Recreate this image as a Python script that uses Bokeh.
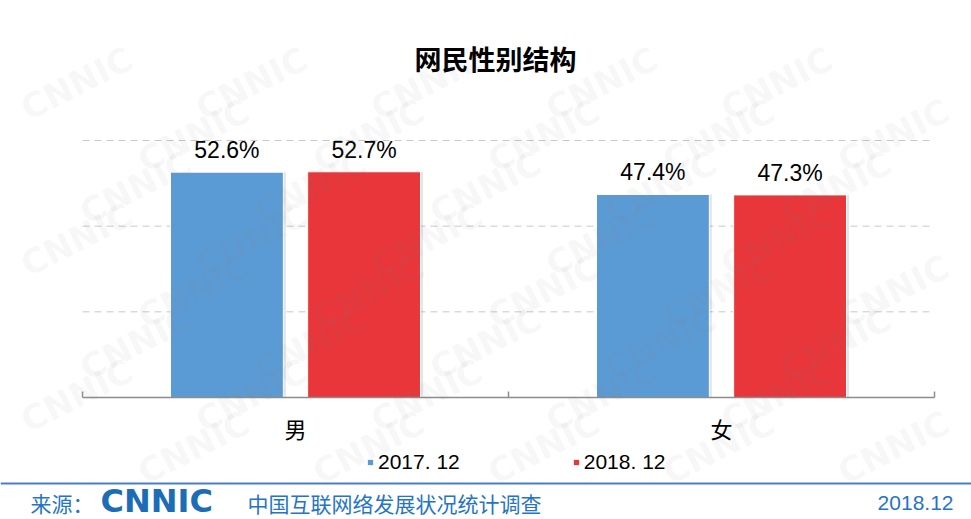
from bokeh.plotting import figure
from bokeh.models import (Range1d, Label, Legend, LegendItem, ColumnDataSource, Span)
from bokeh.embed import file_html
from bokeh.resources import INLINE
from bokeh.core.properties import value

# ---------------- data ----------------
categories = ["男", "女"]
series_names = ["2017. 12", "2018. 12"]
values_2017 = [52.6, 47.4]
values_2018 = [52.7, 47.3]
grid_ticks = [20, 40, 60]
y_max = 60
title_text = "网民性别结构"
source_label = "来源："
logo_text = "CNNIC"
survey_text = "中国互联网络发展状况统计调查"
date_text = "2018.12"
watermark_text = "CNNIC"

# ---------------- style / layout ----------------
BLUE = "#5B9BD5"
RED = "#E8363A"
FOOT_BLUE = "#2675C4"
LOGO_BLUE = "#1C6CB6"
LINE_BLUE = "#4A7EC8"
AXIS_GRAY = "#8C8C8C"
GRID_GRAY = "#C8C8C8"
LATIN = "Liberation Sans"
CJK = "Noto Sans CJK SC"

W, H = 971, 519
AREA_L, AREA_R = 82, 934        # plot area, canvas px from left
AREA_TOP, AREA_BASE = 140, 397  # plot area, canvas px from top
FOOT_LINE = 483

n = len(categories)
px_x = (AREA_R - AREA_L) / n
px_y = (AREA_BASE - AREA_TOP) / y_max
x_lo, x_hi = -AREA_L / px_x, n + (W - AREA_R) / px_x
y_lo, y_hi = -(H - AREA_BASE) / px_y, y_max + AREA_TOP / px_y

centers = [i + 0.5 for i in range(n)]
off = 0.161
bw = 0.265
sh = 0.006

src = ColumnDataSource(dict(
    x17=[c - off for c in centers],
    x18=[c + off for c in centers],
    s17=[c - off + sh for c in centers],
    s18=[c + off + sh for c in centers],
    v17=values_2017,
    v18=values_2018,
    l17=[f"{v}%" for v in values_2017],
    l18=[f"{v}%" for v in values_2018],
))

p = figure(width=W, height=H, x_range=Range1d(x_lo, x_hi), y_range=Range1d(y_lo, y_hi),
           output_backend="svg", toolbar_location=None,
           x_axis_location=None, y_axis_location=None, min_border=0)
p.outline_line_color = None
p.background_fill_color = "white"
p.border_fill_color = "white"
p.grid.grid_line_color = None

# dashed value gridlines over the category span
p.segment(x0=[0] * len(grid_ticks), x1=[n] * len(grid_ticks), y0=grid_ticks, y1=grid_ticks,
          line_color=GRID_GRAY, line_dash="7 5", line_width=1)

# soft shadows
for key, xk in (("v17", "s17"), ("v18", "s18")):
    p.vbar(x=xk, top=key, width=bw, source=src,
           fill_color="#000000", fill_alpha=0.10, line_color=None)

r17 = p.vbar(x="x17", top="v17", width=bw, source=src,
             fill_color=BLUE, line_color="white", line_width=1)
r18 = p.vbar(x="x18", top="v18", width=bw, source=src,
             fill_color=RED, line_color="white", line_width=1)

for key, lab, xk in (("v17", "l17", "x17"), ("v18", "l18", "x18")):
    p.text(x=xk, y=key, text=lab, source=src,
           text_align="center", text_baseline="bottom", y_offset=-9,
           text_font=value(LATIN), text_font_size="23px", text_color="#000000")

# category axis: baseline, inward boundary ticks, labels
p.segment(x0=[0], x1=[n], y0=[0], y1=[0], line_color=AXIS_GRAY, line_width=1.5)
bounds = list(range(n + 1))
p.segment(x0=bounds, x1=bounds, y0=[0] * len(bounds), y1=[6 / px_y] * len(bounds),
          line_color=AXIS_GRAY, line_width=1.5)
p.text(x=centers, y=[0] * n, text=categories, y_offset=30,
       text_align="center", text_baseline="middle",
       text_font=value(CJK), text_font_size="22px", text_color="#000000")

# title
p.add_layout(Label(x=495, y=H - 58, x_units="screen", y_units="screen", text=title_text,
                   text_align="center", text_baseline="middle", text_font=CJK,
                   text_font_size="27px", text_font_style="bold", text_color="#000000"))

# legend
legend = Legend(items=[LegendItem(label=series_names[0], renderers=[r17]),
                       LegendItem(label=series_names[1], renderers=[r18])],
                orientation="horizontal", location=(366, H - 462 - 12),
                label_text_font=LATIN, label_text_font_size="21px", label_text_color="#000000",
                glyph_width=8, glyph_height=8, label_standoff=4, spacing=112,
                padding=0, margin=0, border_line_color=None, background_fill_alpha=0)
p.add_layout(legend, "center")

# footer
p.add_layout(Span(location=-(FOOT_LINE - AREA_BASE) / px_y, dimension="width",
                  line_color=LINE_BLUE, line_width=2))
p.add_layout(Label(x=30, y=H - 502, x_units="screen", y_units="screen", text=source_label,
                   text_baseline="middle", text_font=CJK, text_font_size="21px",
                   text_color=FOOT_BLUE))
p.add_layout(Label(x=100, y=H - 500, x_units="screen", y_units="screen", text=logo_text,
                   text_baseline="middle", text_font="DejaVu Sans", text_font_style="bold",
                   text_font_size="32px", text_color=LOGO_BLUE))
p.add_layout(Label(x=247, y=H - 502, x_units="screen", y_units="screen", text=survey_text,
                   text_baseline="middle", text_font=CJK, text_font_size="21px",
                   text_color=FOOT_BLUE))
p.add_layout(Label(x=953, y=H - 502, x_units="screen", y_units="screen", text=date_text,
                   text_align="right", text_baseline="middle", text_font=LATIN,
                   text_font_size="21px", text_color=FOOT_BLUE))

# watermark
for j in range(11):
    for i in range(7):
        sx = -40 + 175 * i + (j % 3) * 58
        sy = 20 + 52 * j
        if 70 <= sx <= W - 70 and 45 <= sy <= H - 45:
            p.add_layout(Label(x=sx, y=sy, x_units="screen", y_units="screen",
                               text=watermark_text, angle=0.47, text_font="DejaVu Sans",
                               text_font_style="bold", text_font_size="34px",
                               text_color="#808080", text_alpha=0.07,
                               text_align="center", text_baseline="middle", level="overlay"))

open("out.html", "w").write(file_html(p, INLINE))
